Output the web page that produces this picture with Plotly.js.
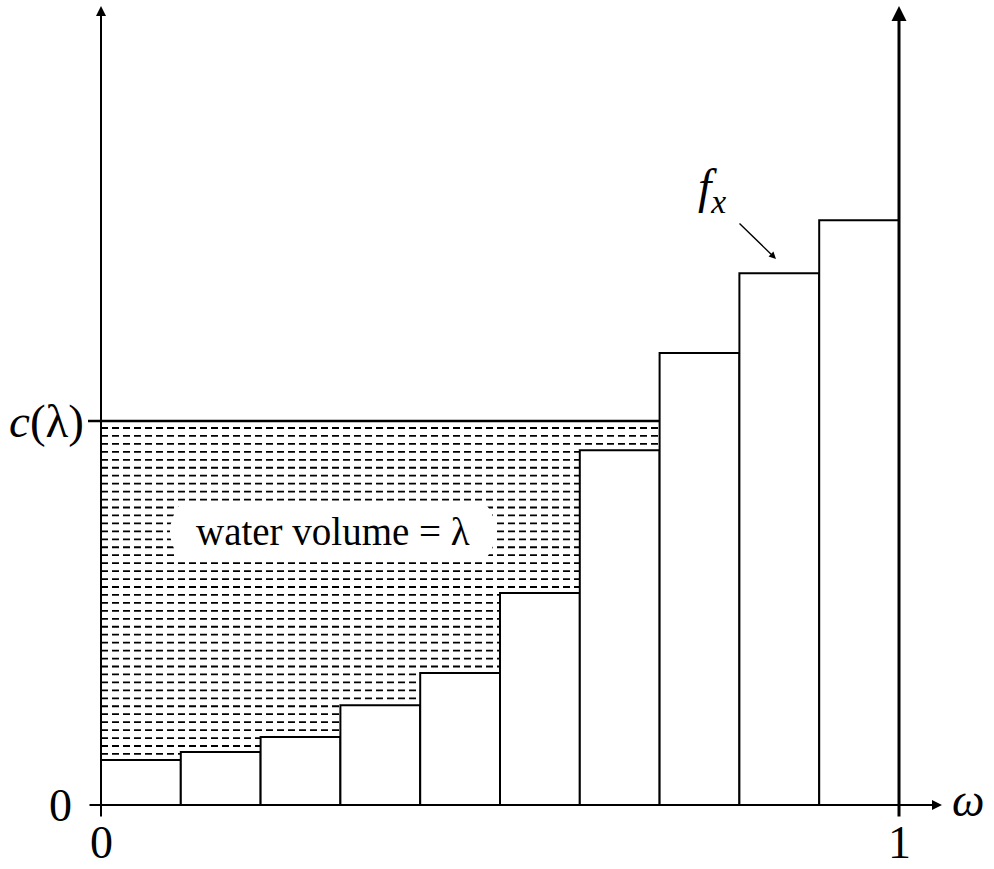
<!DOCTYPE html>
<html>
<head>
<meta charset="utf-8">
<script src="https://cdn.plot.ly/plotly-3.0.1.min.js"></script>
<style>html,body{margin:0;padding:0;background:#fff}#chart{width:994px;height:869px}</style>
</head>
<body>
<div id="chart"></div>
<script>
// ---- data (y in units of c(lambda)) ----
const binLeft = [0.0, 0.1, 0.2, 0.3, 0.4, 0.5, 0.6, 0.7, 0.8, 0.9];
const binWidth = 0.1;
const barHeights = [0.117, 0.138, 0.177, 0.260, 0.344, 0.552, 0.924, 1.177, 1.385, 1.523];
const waterLevel = 1.0;            // c(lambda)
const xTickVals = [0, 1];
const xTickText = ["0", "1"];
const yTickVals = [0, waterLevel];
const yTickText = ["0", "<i>c</i>(λ)"];
const labelText = "water volume = λ";
const curveLabel = "<i>f<sub>x</sub></i>";
const xAxisLabel = "<i>ω</i>";

// ---- pixel mapping (styling offsets only) ----
const PXX = 798, PXY = 384;
const X0PX = 101, Y0PX = 805;
const px = p => (p - X0PX) / PXX;
const py = p => (Y0PX - p) / PXY;

const FONT = "Liberation Serif, DejaVu Serif, serif";
const traces = [];

// water hatching: dashed horizontal lines under c(lambda)
const hatchStart = waterLevel - 7 / PXY;
const hatchStep = 7.95 / PXY;
for (let h = hatchStart; h > 0; h -= hatchStep) {
  let n = 0;
  while (n < barHeights.length && barHeights[n] < h) n++;
  if (n === 0) continue;
  const xEnd = binLeft[n - 1] + binWidth;
  traces.push({
    type: "scatter", mode: "lines", x: [0, xEnd], y: [h, h],
    line: {color: "#000", width: 1.8, dash: "7px,4px"},
    hoverinfo: "skip", showlegend: false
  });
}

// bars f_x
traces.push({
  type: "bar",
  x: binLeft.map(v => v + binWidth / 2),
  y: barHeights,
  width: binLeft.map(() => binWidth),
  marker: {color: "#fff", line: {color: "#000", width: 2}},
  hoverinfo: "skip", showlegend: false
});

// c(lambda) level line (with tick)
traces.push({
  type: "scatter", mode: "lines",
  x: [px(88), binLeft[7]], y: [waterLevel, waterLevel],
  line: {color: "#000", width: 2.6}, hoverinfo: "skip", showlegend: false
});

const shapes = [
  (function () {
    const x0 = px(170), x1 = px(496), yt = py(506), yb = py(557), ym = (yt + yb) / 2, d = 0.011;
    return {
      type: "path", xref: "x", yref: "y", layer: "above",
      path: `M ${x0 + d},${yt} L ${x1 - d},${yt} Q ${x1 + d},${ym} ${x1 - d},${yb} L ${x0 + d},${yb} Q ${x0 - d},${ym} ${x0 + d},${yt} Z`,
      fillcolor: "#fff", line: {width: 0}
    };
  })()
];

function arrow(x, y, ax, ay, w) {
  return {x: x, y: y, ax: ax, ay: ay, xref: "x", yref: "y", axref: "x", ayref: "y",
    text: "", showarrow: true, arrowhead: 2, arrowsize: 1, arrowwidth: w, arrowcolor: "#000", standoff: 0};
}

const annotations = [
  arrow(0, py(6), 0, py(818), 2),
  arrow(1, py(6), 1, py(818), 3),
  arrow(px(942), 0, px(88), 0, 2),
  arrow(px(776), py(259), px(738), py(222), 1.4),
  {x: px(60), y: yTickVals[0], xref: "x", yref: "y", text: yTickText[0], showarrow: false,
   xanchor: "center", yanchor: "middle", font: {family: FONT, size: 46, color: "#000"}},
  {x: px(86), y: yTickVals[1], xref: "x", yref: "y", text: yTickText[1], showarrow: false,
   xanchor: "right", yanchor: "middle", font: {family: FONT, size: 47, color: "#000"}},
  {x: xTickVals[0], y: py(842), xref: "x", yref: "y", text: xTickText[0], showarrow: false,
   xanchor: "center", yanchor: "middle", font: {family: FONT, size: 46, color: "#000"}},
  {x: xTickVals[1], y: py(842), xref: "x", yref: "y", text: xTickText[1], showarrow: false,
   xanchor: "center", yanchor: "middle", font: {family: FONT, size: 46, color: "#000"}},
  {x: px(968), y: py(800), xref: "x", yref: "y", text: xAxisLabel, showarrow: false,
   xanchor: "center", yanchor: "middle", font: {family: FONT, size: 46, color: "#000"}},
  {x: px(712), y: py(190), xref: "x", yref: "y", text: curveLabel, showarrow: false,
   xanchor: "center", yanchor: "middle", font: {family: FONT, size: 48, color: "#000"}},
  {x: px(333), y: py(531), xref: "x", yref: "y", text: labelText, showarrow: false,
   xanchor: "center", yanchor: "middle", font: {family: FONT, size: 39, color: "#000"}}
];

const layout = {
  width: 994, height: 869,
  margin: {l: 0, r: 0, t: 0, b: 0},
  paper_bgcolor: "#fff", plot_bgcolor: "#fff",
  xaxis: {range: [px(0), px(994)], visible: false, fixedrange: true},
  yaxis: {range: [py(869), py(0)], visible: false, fixedrange: true},
  bargap: 0,
  shapes: shapes,
  annotations: annotations,
  showlegend: false
};

Plotly.newPlot("chart", traces, layout, {displayModeBar: false, staticPlot: true});
</script>
</body>
</html>
